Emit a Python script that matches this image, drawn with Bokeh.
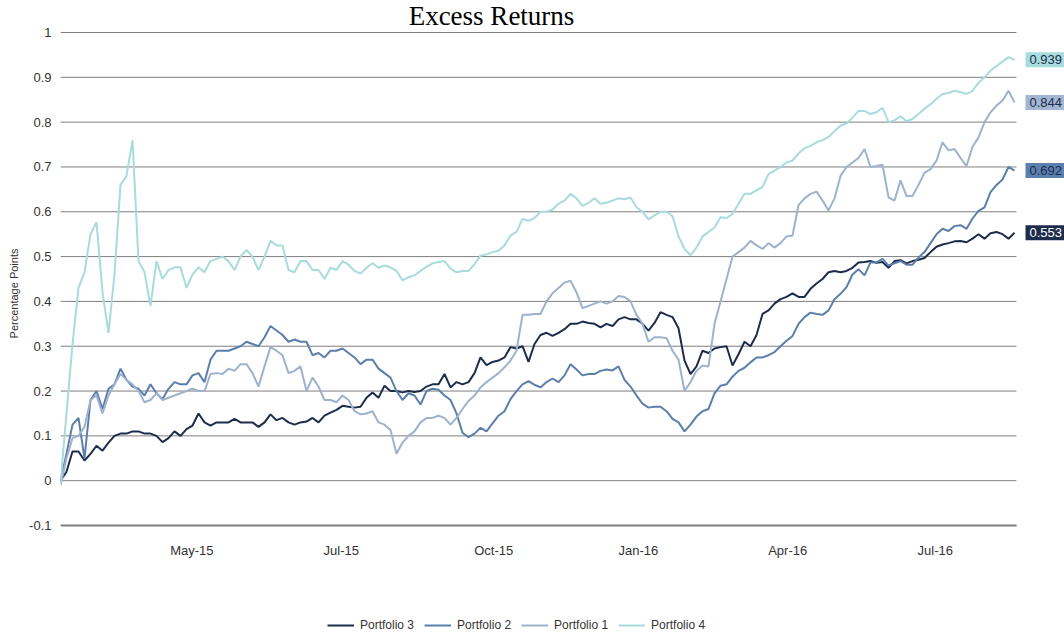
from bokeh.plotting import figure
from bokeh.layouts import column
from bokeh.models import Range1d, FixedTicker, Legend, LegendItem, Label
from bokeh.embed import file_html
from bokeh.resources import INLINE

title_text = "Excess Returns"
y_axis_label = "Percentage Points"
series_names = ["Portfolio 3", "Portfolio 2", "Portfolio 1", "Portfolio 4"]
x_tick_labels = ["May-15", "Jul-15", "Oct-15", "Jan-16", "Apr-16", "Jul-16"]
x_tick_index = [21.9, 46.8, 72.2, 96.3, 121.2, 145.8]
y_ticks = [-0.1, 0, 0.1, 0.2, 0.3, 0.4, 0.5, 0.6, 0.7, 0.8, 0.9, 1]
y_tick_text = {-0.1: "-0.1", 0: "0", 1: "1"}

portfolio_3 = [
    0.0, 0.02, 0.065, 0.065, 0.045, 0.06, 0.078, 0.067, 0.085, 0.10, 0.105, 0.105, 0.11, 0.11,
    0.105, 0.105, 0.10, 0.086, 0.095, 0.11, 0.10, 0.115, 0.123, 0.15, 0.13, 0.123, 0.13,
    0.13, 0.13, 0.138, 0.13, 0.13, 0.13, 0.12, 0.13, 0.148, 0.135, 0.14, 0.13, 0.125, 0.13,
    0.132, 0.14, 0.13, 0.145, 0.152, 0.158, 0.167, 0.165, 0.163, 0.165, 0.185, 0.197, 0.185,
    0.212, 0.2, 0.2, 0.197, 0.2, 0.198, 0.2, 0.21, 0.215, 0.215, 0.238, 0.208, 0.22,
    0.215, 0.22, 0.24, 0.275, 0.258, 0.265, 0.268, 0.275, 0.298, 0.295, 0.3, 0.265, 0.305,
    0.325, 0.33, 0.323, 0.33, 0.338, 0.35, 0.35, 0.355, 0.352, 0.35, 0.342, 0.35, 0.345, 0.36,
    0.365, 0.36, 0.36, 0.35, 0.335, 0.352, 0.376, 0.37, 0.365, 0.34, 0.268, 0.238, 0.255,
    0.29, 0.285, 0.295, 0.298, 0.3, 0.257, 0.282, 0.31, 0.3, 0.325, 0.372, 0.38, 0.395, 0.405,
    0.41, 0.418, 0.41, 0.41, 0.428, 0.44, 0.45, 0.465, 0.468, 0.465, 0.468, 0.475, 0.487,
    0.488, 0.49, 0.486, 0.488, 0.475, 0.49, 0.492, 0.485, 0.49, 0.493, 0.497, 0.51, 0.522,
    0.527, 0.53, 0.534, 0.535, 0.532, 0.54, 0.55, 0.54, 0.552, 0.555, 0.55, 0.54, 0.553,
]
portfolio_2 = [
    0.0, 0.06, 0.125, 0.14, 0.05, 0.18, 0.20, 0.16, 0.205, 0.215, 0.25, 0.225, 0.21, 0.205,
    0.19, 0.215, 0.195, 0.182, 0.205, 0.22, 0.215, 0.215, 0.235, 0.24, 0.22, 0.27, 0.29,
    0.29, 0.29, 0.295, 0.30, 0.31, 0.305, 0.30, 0.32, 0.345, 0.335, 0.325, 0.31, 0.315, 0.31,
    0.31, 0.28, 0.285, 0.275, 0.29, 0.29, 0.295, 0.285, 0.275, 0.26, 0.27, 0.27, 0.25,
    0.24, 0.23, 0.2, 0.18, 0.195, 0.19, 0.17, 0.2, 0.205, 0.203, 0.19, 0.18, 0.15,
    0.107, 0.097, 0.105, 0.118, 0.11, 0.128, 0.145, 0.155, 0.182, 0.2, 0.215, 0.222, 0.214,
    0.208, 0.22, 0.228, 0.22, 0.235, 0.26, 0.248, 0.235, 0.238, 0.238, 0.245, 0.248, 0.246, 0.255,
    0.225, 0.21, 0.19, 0.172, 0.163, 0.165, 0.165, 0.155, 0.138, 0.13, 0.11, 0.125, 0.143,
    0.155, 0.16, 0.195, 0.212, 0.215, 0.232, 0.245, 0.252, 0.264, 0.275, 0.275, 0.28, 0.287, 0.3,
    0.312, 0.323, 0.35, 0.365, 0.375, 0.372, 0.37, 0.38, 0.405, 0.417, 0.432, 0.46, 0.472,
    0.458, 0.487, 0.487, 0.495, 0.48, 0.485, 0.49, 0.482, 0.482, 0.498, 0.51, 0.53, 0.55,
    0.562, 0.557, 0.568, 0.57, 0.562, 0.585, 0.602, 0.61, 0.644, 0.66, 0.672, 0.7, 0.692,
]
portfolio_1 = [
    -0.01, 0.05, 0.095, 0.1, 0.12, 0.18, 0.19, 0.15, 0.19, 0.215, 0.238, 0.225, 0.215, 0.2,
    0.175, 0.18, 0.195, 0.18, 0.185, 0.19, 0.195, 0.2, 0.205, 0.2, 0.2, 0.238, 0.24,
    0.238, 0.25, 0.245, 0.26, 0.26, 0.24, 0.21, 0.255, 0.298, 0.29, 0.28, 0.24, 0.245, 0.255,
    0.2, 0.23, 0.21, 0.18, 0.18, 0.175, 0.19, 0.18, 0.155, 0.148, 0.15, 0.155, 0.13,
    0.125, 0.113, 0.06, 0.085, 0.1, 0.11, 0.13, 0.14, 0.14, 0.145, 0.14, 0.125, 0.14,
    0.16, 0.178, 0.19, 0.208, 0.22, 0.23, 0.24, 0.253, 0.268, 0.29, 0.37, 0.37, 0.372,
    0.372, 0.4, 0.418, 0.43, 0.442, 0.446, 0.42, 0.385, 0.39, 0.395, 0.4, 0.395, 0.4, 0.412,
    0.41, 0.4, 0.37, 0.35, 0.31, 0.32, 0.32, 0.318, 0.29, 0.27, 0.2, 0.22, 0.245,
    0.257, 0.255, 0.35, 0.4, 0.45, 0.5, 0.51, 0.52, 0.535, 0.525, 0.517, 0.53, 0.52, 0.53,
    0.545, 0.547, 0.615, 0.63, 0.64, 0.645, 0.625, 0.603, 0.63, 0.68, 0.7, 0.71, 0.72,
    0.74, 0.7, 0.702, 0.705, 0.632, 0.625, 0.67, 0.635, 0.635, 0.66, 0.687, 0.695, 0.714,
    0.755, 0.737, 0.74, 0.72, 0.702, 0.745, 0.766, 0.8, 0.822, 0.837, 0.848, 0.87, 0.844,
]
portfolio_4 = [
    -0.005, 0.15, 0.305, 0.43, 0.465, 0.55, 0.577, 0.42, 0.33, 0.46, 0.66, 0.68, 0.76, 0.49,
    0.465, 0.39, 0.49, 0.45, 0.47, 0.476, 0.476, 0.43, 0.46, 0.476, 0.465, 0.49, 0.495,
    0.5, 0.49, 0.47, 0.50, 0.515, 0.50, 0.47, 0.50, 0.535, 0.525, 0.525, 0.47, 0.465, 0.49,
    0.49, 0.47, 0.47, 0.45, 0.475, 0.47, 0.49, 0.482, 0.468, 0.462, 0.475, 0.485, 0.475,
    0.48, 0.476, 0.468, 0.447, 0.454, 0.458, 0.468, 0.477, 0.485, 0.488, 0.49, 0.473, 0.465,
    0.468, 0.468, 0.483, 0.502, 0.505, 0.51, 0.513, 0.525, 0.547, 0.555, 0.584, 0.58, 0.586,
    0.6, 0.6, 0.605, 0.618, 0.625, 0.64, 0.63, 0.613, 0.62, 0.63, 0.618, 0.62, 0.625, 0.63,
    0.628, 0.632, 0.61, 0.6, 0.583, 0.592, 0.6, 0.6, 0.59, 0.545, 0.517, 0.503, 0.52,
    0.545, 0.555, 0.565, 0.588, 0.586, 0.595, 0.618, 0.64, 0.64, 0.648, 0.655, 0.684, 0.692, 0.7,
    0.71, 0.714, 0.73, 0.742, 0.747, 0.755, 0.76, 0.767, 0.78, 0.792, 0.797, 0.81, 0.825,
    0.825, 0.818, 0.822, 0.832, 0.8, 0.804, 0.813, 0.802, 0.807, 0.818, 0.83, 0.84, 0.852,
    0.863, 0.865, 0.87, 0.867, 0.863, 0.87, 0.888, 0.9, 0.915, 0.925, 0.935, 0.945, 0.939,
]

series_values = [portfolio_3, portfolio_2, portfolio_1, portfolio_4]
line_colors = ["#1e2c4c", "#5b7fab", "#9eb2ce", "#a7dbdc"]
box_colors = ["#1e2c4c", "#5b80b0", "#a2b5d1", "#a9dcdf"]
box_text_colors = ["#ffffff", "#1e2c4c", "#1e2c4c", "#1e2c4c"]

n = len(portfolio_3)
for s in series_values:
    assert len(s) == n, len(s)
days = list(range(n))
x_end = days[-1] + 0.33          # end of the plotted domain
y_min, y_max = y_ticks[0], y_ticks[-1]

FONT = "Liberation Sans"
GRID = "#7f7f7f"

# frame reaches below the value axis so the axis title sits lower, as in the original
p = figure(frame_width=1004, frame_height=586,
           x_range=Range1d(0, 167.33), y_range=Range1d(-0.2361, 1.0714),
           output_backend="svg", toolbar_location=None,
           min_border_left=60, min_border_right=0, min_border_top=0, min_border_bottom=32)
p.outline_line_color = None
p.background_fill_color = "white"
p.border_fill_color = "white"
p.xgrid.visible = False
p.ygrid.visible = False

# horizontal grid lines, limited to the data domain
p.segment(x0=[0] * len(y_ticks), x1=[x_end] * len(y_ticks), y0=y_ticks, y1=y_ticks,
          line_color=GRID, line_width=1)

# y axis
p.yaxis.ticker = FixedTicker(ticks=y_ticks)
p.yaxis.bounds = (y_min, y_max)
p.yaxis.major_label_overrides = y_tick_text
p.yaxis.axis_line_color = None
p.yaxis.major_tick_line_color = None
p.yaxis.minor_tick_line_color = None
p.yaxis.major_tick_out = 0
p.yaxis.minor_tick_out = 0
p.yaxis.major_label_text_font = FONT
p.yaxis.major_label_text_font_size = "13px"
p.yaxis.major_label_text_color = "#333333"
p.yaxis.major_label_standoff = 9
p.yaxis.axis_label = y_axis_label
p.yaxis.axis_label_text_font = FONT
p.yaxis.axis_label_text_font_size = "11px"
p.yaxis.axis_label_text_font_style = "normal"
p.yaxis.axis_label_text_color = "#333333"
p.yaxis.axis_label_standoff = 6

# x axis, drawn on the -0.1 line
p.xaxis.ticker = FixedTicker(ticks=x_tick_index)
p.xaxis.fixed_location = y_min
p.xaxis.bounds = (0, x_end)
p.xaxis.major_label_overrides = dict(zip(x_tick_index, x_tick_labels))
p.xaxis.axis_line_color = GRID
p.xaxis.axis_line_width = 2
p.xaxis.major_tick_line_color = None
p.xaxis.minor_tick_line_color = None
p.xaxis.major_tick_out = 0
p.xaxis.minor_tick_out = 0
p.xaxis.major_label_text_font = FONT
p.xaxis.major_label_text_font_size = "13px"
p.xaxis.major_label_text_color = "#333333"
p.xaxis.major_label_standoff = 17

for vals, col in zip(series_values, line_colors):
    p.line(days, vals, line_color=col, line_width=2)

# value boxes at the end of each series
for vals, bc, tc in zip(series_values, box_colors, box_text_colors):
    p.add_layout(Label(x=days[-1], y=vals[-1], text=f"{vals[-1]:.3f}", x_offset=11,
                       text_align="left", text_baseline="middle", text_font=FONT,
                       text_font_size="13px", text_color=tc,
                       background_fill_color=bc, padding=(4, 3)))

# title, inside the top band of the frame
p.add_layout(Label(x=431, y=571, x_units="screen", y_units="screen", text=title_text,
                   text_align="center", text_baseline="alphabetic",
                   text_font="Liberation Serif", text_font_size="27px", text_color="black"))

# legend strip below the chart (its lines sit outside the strip's visible range)
pl = figure(width=1064, height=14, output_backend="svg", toolbar_location=None,
            x_axis_type=None, y_axis_type=None, min_border=0,
            x_range=Range1d(0, 1), y_range=Range1d(10, 11))
pl.outline_line_color = None
pl.grid.visible = False
leg_renderers = [pl.line(days, vals, line_color=col, line_width=2)
                 for vals, col in zip(series_values, line_colors)]
items = [LegendItem(label=name, renderers=[r]) for name, r in zip(series_names, leg_renderers)]
pl.add_layout(Legend(items=items, orientation="horizontal", location=(267, 0),
                     glyph_width=27, glyph_height=14, label_height=14, label_width=20,
                     label_standoff=6, spacing=10, padding=0, margin=0,
                     border_line_color=None, background_fill_alpha=0,
                     label_text_font=FONT, label_text_font_size="12px",
                     label_text_color="#333333"))

layout = column(p, pl, spacing=0)
open("out.html", "w").write(file_html(layout, INLINE))
